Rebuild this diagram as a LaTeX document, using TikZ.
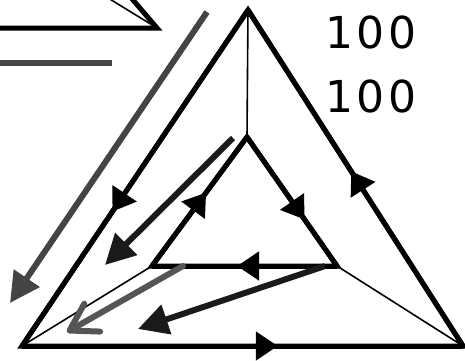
\documentclass[tikz,border=0pt]{standalone}
\usepackage{fontspec}
\newfontfamily\digitfont[LetterSpace=8]{DejaVu Sans}
\usepackage{tikz}
\usetikzlibrary{arrows.meta, decorations.markings}
\definecolor{darkline}{HTML}{1A1A1A}
\definecolor{greyline}{HTML}{444444}
\definecolor{softline}{HTML}{555555}

\begin{document}
\begin{tikzpicture}[
    x=0.5pt, y=-0.5pt,
    edge/.style={line width=2.5pt, line join=miter},
    spoke/.style={line width=0.8pt},
    flow/.style={postaction={decorate}, decoration={markings, mark=at position #1 with {\arrow{Triangle[length=11pt, width=14pt]}}}},
    jump/.style={line width=3pt, -{Triangle[length=15pt, width=15pt]}},
    barb/.style={line width=3pt, line cap=round, -{Straight Barb[length=13pt, width=16pt, round]}},
    numtext/.style={font=\digitfont\fontsize{22}{26}\selectfont, inner sep=0pt}
]
    \clip (0,0) rectangle (465,360);

    \coordinate (top) at (248,10);
    \coordinate (left) at (22,346);
    \coordinate (right) at (463,346);
    \coordinate (itop) at (247,137);
    \coordinate (ileft) at (152,266);
    \coordinate (iright) at (337,266);

    \coordinate (corner) at (157,28);
    \coordinate (cornerw) at (-10,28);
    \coordinate (cornern) at (127,-7);
    \coordinate (cornerv) at (100,-7);
    \coordinate (barw) at (0,63);
    \coordinate (bare) at (112,63);

    \draw[edge] (top) -- (left) -- (right) -- cycle;
    \draw[edge] (itop) -- (iright) -- (ileft) -- cycle;
    \draw[edge, flow=0.6] (top) -- (left);
    \draw[edge, flow=0.58] (left) -- (right);
    \draw[edge, flow=0.52] (right) -- (top);
    \draw[edge, flow=0.64] (itop) -- (iright);
    \draw[edge, flow=0.54] (iright) -- (ileft);
    \draw[edge, flow=0.57] (ileft) -- (itop);

    \draw[spoke] (top) -- (itop);
    \draw[spoke] (ileft) -- (left);
    \draw[spoke] (iright) -- (right);

    \draw[edge] (cornerw) -- (corner) -- (cornern);
    \draw[spoke] (corner) -- (cornerv);
    \draw[line width=3pt, greyline] (barw) -- (bare);

    \coordinate (s1) at (207,12);
    \coordinate (e1) at (10,303);
    \coordinate (s2) at (233,138);
    \coordinate (e2) at (105,265);
    \coordinate (s3) at (183,266);
    \coordinate (e3) at (67,332);
    \coordinate (s4) at (325,266);
    \coordinate (e4) at (138,329);

    \draw[jump, greyline] (s1) -- (e1);
    \draw[jump, darkline] (s2) -- (e2);
    \draw[barb, softline] (s3) -- (e3);
    \draw[jump, darkline] (s4) -- (e4);

    \node[numtext] (first) at (371,32) {100};
    \node[numtext] (second) at (371,96) {100};
\end{tikzpicture}
\end{document}
